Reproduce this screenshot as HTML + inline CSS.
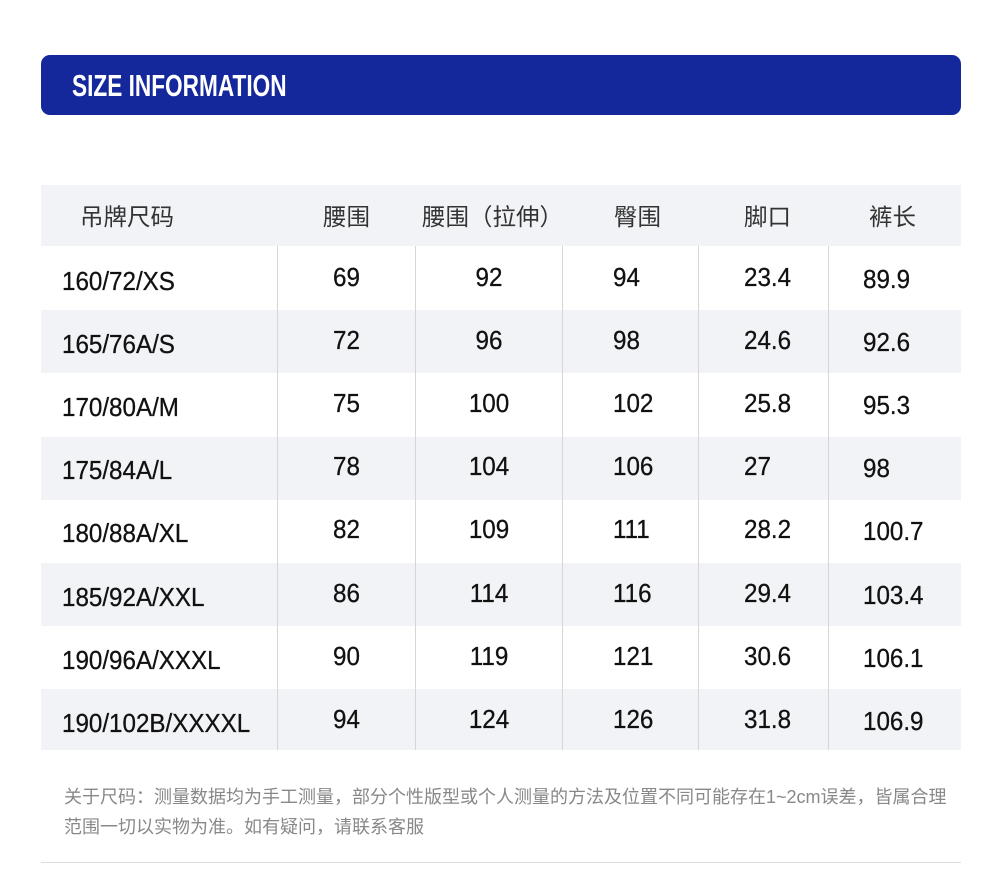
<!DOCTYPE html>
<html><head><meta charset="utf-8"><style>
body{margin:0;width:1000px;height:879px;background:#fff;position:relative;overflow:hidden;font-family:"Liberation Sans","Noto Sans CJK SC",sans-serif}
.bar{position:absolute;left:41px;top:55px;width:920px;height:60px;background:#14279b;border-radius:9px}
.title{position:absolute;left:72px;top:68px;font-size:31px;font-weight:bold;color:#fff;transform:scaleX(0.73);transform-origin:left top;white-space:nowrap}
.row{position:absolute;left:41px;width:920px}
.g{background:#f2f3f6}
.vl{position:absolute;top:246px;height:504px;width:1px;background:#d6d6d6}
.h{position:absolute;top:198px;font-size:23.5px;color:#333;white-space:nowrap}
.d{position:absolute;font-size:26px;color:#111;white-space:nowrap;transform:scaleX(0.93);transform-origin:left top;-webkit-text-stroke:0.3px #111}
.c{transform:translateX(-50%) scaleX(0.93);transform-origin:center top}
.note{position:absolute;left:64px;font-size:18px;color:#888;white-space:nowrap}
</style></head><body>
<div class="bar"></div><div class="title">SIZE INFORMATION</div>
<div class="row g" style="top:185px;height:61px"></div>
<div class="row g" style="top:310px;height:63px"></div>
<div class="row g" style="top:437px;height:63px"></div>
<div class="row g" style="top:563px;height:63px"></div>
<div class="row g" style="top:689px;height:61px"></div>
<div class="vl" style="left:277px"></div><div class="vl" style="left:415px"></div><div class="vl" style="left:562px"></div><div class="vl" style="left:698px"></div><div class="vl" style="left:828px"></div>
<div class="h" style="left:80px">吊牌尺码</div>
<div class="h" style="left:323px">腰围</div>
<div class="h" style="left:422px">腰围（拉伸）</div>
<div class="h" style="left:614px">臀围</div>
<div class="h" style="left:744px">脚口</div>
<div class="h" style="left:869px">裤长</div>
<div id="rows"></div>
<script>
var data=[["160/72/XS","69","92","94","23.4","89.9"],["165/76A/S","72","96","98","24.6","92.6"],["170/80A/M","75","100","102","25.8","95.3"],["175/84A/L","78","104","106","27","98"],["180/88A/XL","82","109","111","28.2","100.7"],["185/92A/XXL","86","114","116","29.4","103.4"],["190/96A/XXXL","90","119","121","30.6","106.1"],["190/102B/XXXXL","94","124","126","31.8","106.9"]];
var h="";data.forEach(function(r,i){var t=262+i*63.1;
h+='<div class="d" style="left:62px;top:'+(t+4)+'px">'+r[0]+'</div>';
h+='<div class="d" style="left:333px;top:'+t+'px">'+r[1]+'</div>';
h+='<div class="d c" style="left:489px;top:'+t+'px">'+r[2]+'</div>';
h+='<div class="d" style="left:613px;top:'+t+'px">'+r[3]+'</div>';
h+='<div class="d" style="left:744px;top:'+t+'px">'+r[4]+'</div>';
h+='<div class="d" style="left:863px;top:'+(t+2)+'px">'+r[5]+'</div>';});
document.getElementById("rows").innerHTML=h;
</script>
<div class="note" style="top:783px">关于尺码：测量数据均为手工测量，部分个性版型或个人测量的方法及位置不同可能存在1~2cm误差，皆属合理</div>
<div class="note" style="top:813px">范围一切以实物为准。如有疑问，请联系客服</div>
<div style="position:absolute;left:41px;top:862px;width:920px;height:1px;background:#ddd"></div>
</body></html>
